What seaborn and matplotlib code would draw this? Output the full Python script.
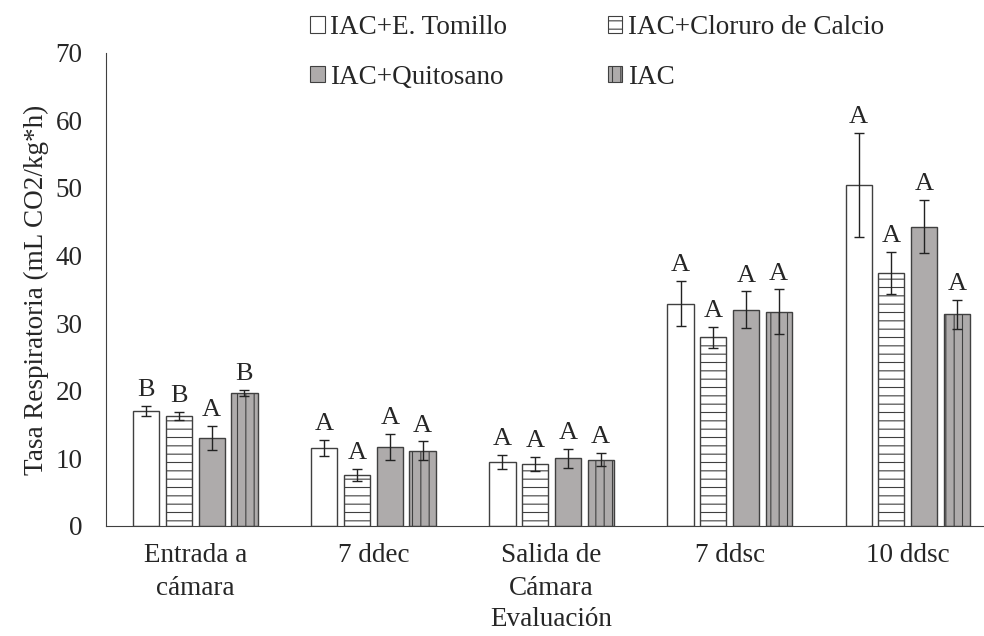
import pandas as pd
import seaborn as sns
import matplotlib.pyplot as plt

# data
evaluaciones = ['Entrada a\ncámara', '7 ddec', 'Salida de\nCámara', '7 ddsc', '10 ddsc']
tratamientos = ['IAC+E. Tomillo', 'IAC+Cloruro de Calcio', 'IAC+Quitosano', 'IAC']

tomillo = [17.0, 11.5, 9.5, 32.9, 50.4]
cloruro = [16.3, 7.6, 9.2, 27.9, 37.4]
quitosano = [13.0, 11.7, 10.0, 32.0, 44.3]
iac = [19.7, 11.1, 9.8, 31.7, 31.3]

tomillo_err = [0.7, 1.2, 1.0, 3.3, 7.7]
cloruro_err = [0.6, 0.9, 1.0, 1.5, 3.1]
quitosano_err = [1.8, 1.9, 1.4, 2.7, 3.9]
iac_err = [0.4, 1.4, 1.0, 3.3, 2.2]

tomillo_let = ['B', 'A', 'A', 'A', 'A']
cloruro_let = ['B', 'A', 'A', 'A', 'A']
quitosano_let = ['A', 'A', 'A', 'A', 'A']
iac_let = ['B', 'A', 'A', 'A', 'A']

series = [tomillo, cloruro, quitosano, iac]
errors = [tomillo_err, cloruro_err, quitosano_err, iac_err]
letters = [tomillo_let, cloruro_let, quitosano_let, iac_let]

rows = []
for t, vals in zip(tratamientos, series):
    for e, v in zip(evaluaciones, vals):
        rows.append({'Evaluacion': e, 'Tratamiento': t, 'Tasa': v})
df = pd.DataFrame(rows)

sns.set_style('white')
plt.rcParams['font.family'] = ['Liberation Serif', 'DejaVu Serif']
plt.rcParams['hatch.linewidth'] = 0.8

FS = 19.5
gris = '#aeabab'
palette = {'IAC+E. Tomillo': 'white', 'IAC+Cloruro de Calcio': 'white',
           'IAC+Quitosano': gris, 'IAC': gris}
hatches = ['', '--', '', '||']

fig, ax = plt.subplots(figsize=(9.84, 6.36), dpi=100)
fig.subplots_adjust(left=0.108, right=1.013, bottom=0.173, top=0.917)

sns.barplot(data=df, x='Evaluacion', y='Tasa', hue='Tratamiento', hue_order=tratamientos,
            palette=palette, width=0.735, gap=0.2, edgecolor='#404040', linewidth=1.0,
            errorbar=None, ax=ax, legend=False)

bar_containers = list(ax.containers)
for k, cont in enumerate(bar_containers):
    xs = []
    for bar in cont.patches:
        bar.set_hatch(hatches[k])
        xs.append(bar.get_x() + bar.get_width() / 2)
    ax.errorbar(xs, series[k], yerr=errors[k], fmt='none', ecolor='#222222',
                elinewidth=1.0, capsize=3.5, capthick=1.0)
    for x, v, err, lab in zip(xs, series[k], errors[k], letters[k]):
        ax.annotate(lab, (x, v + err), xytext=(0, 3.5), textcoords='offset points',
                    ha='center', va='bottom', fontsize=19)

ax.set_xlim(-0.5, len(evaluaciones) - 0.5)
ax.set_ylim(0, 70)
ax.set_yticks(range(0, 71, 10))
ax.set_xlabel('Evaluación', fontsize=FS, labelpad=4)
ax.set_ylabel('Tasa Respiratoria (mL CO2/kg*h)', fontsize=FS)
ax.yaxis.set_label_coords(-0.064, 0.5)
ax.tick_params(axis='both', labelsize=FS, length=0)
ax.tick_params(axis='x', pad=12)
ax.tick_params(axis='y', pad=17)
for t in ax.get_xticklabels():
    t.set_linespacing(1.45)
for s in ['top', 'right']:
    ax.spines[s].set_visible(False)
for s in ['left', 'bottom']:
    ax.spines[s].set_color('#404040')

handles = [plt.Rectangle((0, 0), 1, 1, facecolor=palette[t], edgecolor='#404040',
                         hatch=h, linewidth=0.8) for t, h in zip(tratamientos, hatches)]
# order so rows read: Tomillo / Cloruro, Quitosano / IAC
order = [0, 2, 1, 3]
fig.legend([handles[i] for i in order], [tratamientos[i] for i in order],
           loc='upper left', bbox_to_anchor=(310 / 984, 1 - 15 / 636), ncol=2, frameon=False,
           fontsize=FS, handlelength=0.55, handleheight=0.55, handletextpad=0.2,
           columnspacing=3.7, labelspacing=0.91, borderpad=0, borderaxespad=0)

fig.savefig('out.png', dpi=100)
